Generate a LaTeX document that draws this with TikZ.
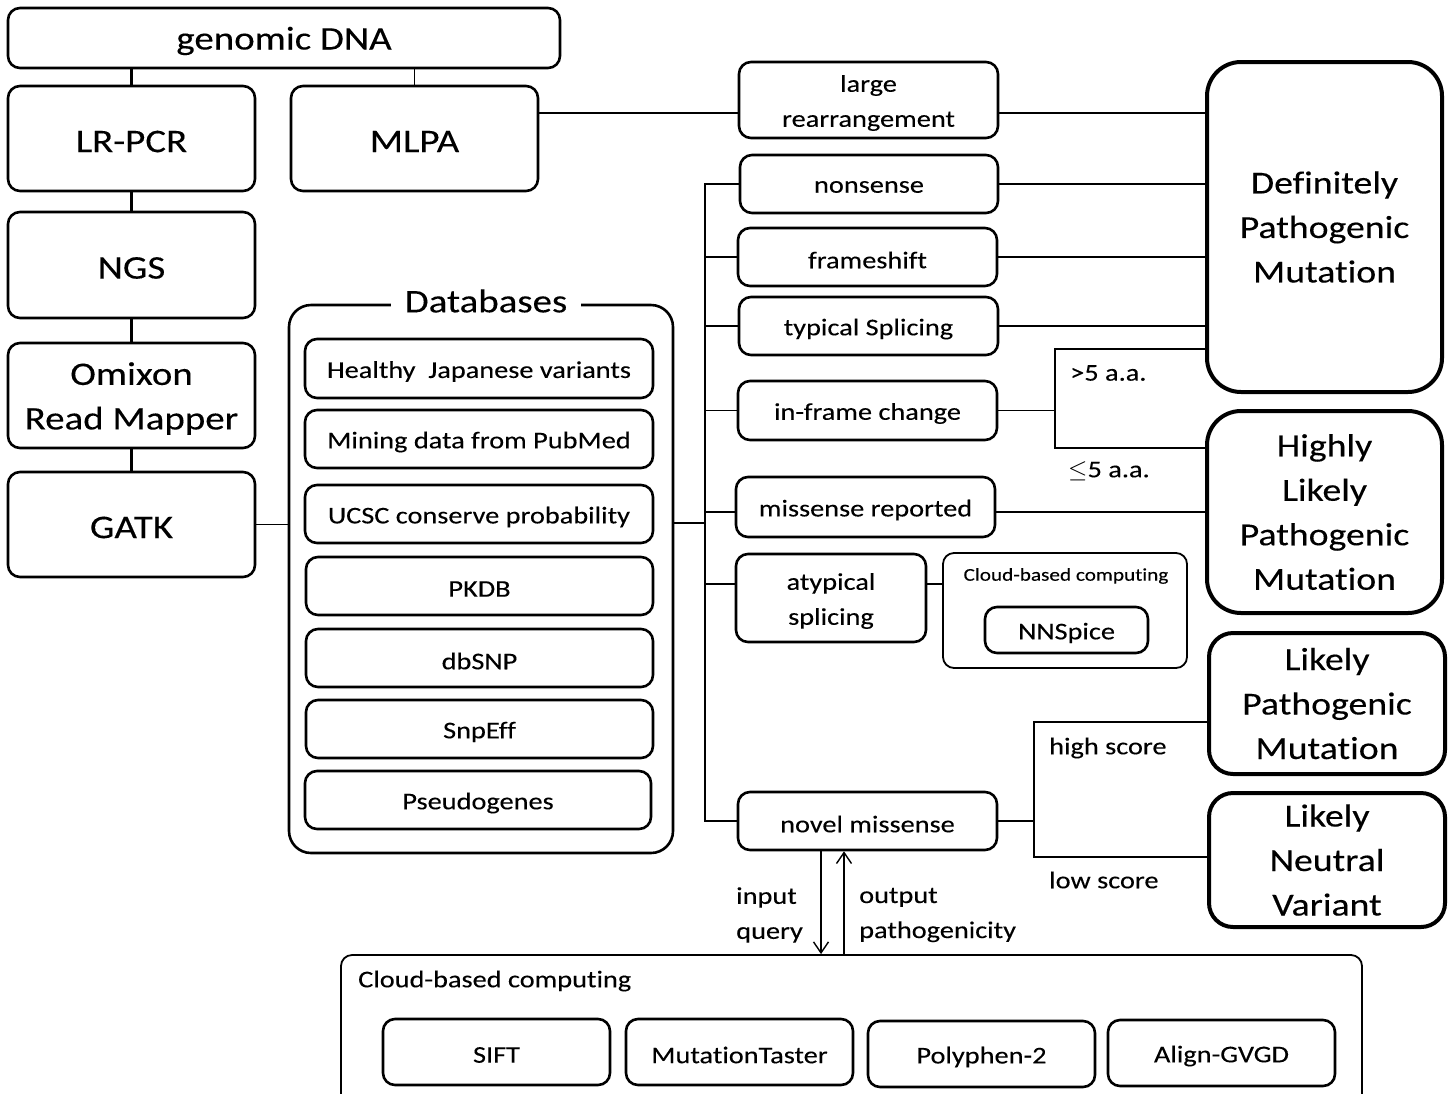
\documentclass[tikz,border=0pt]{standalone}
\usepackage{fontspec}
\setmainfont{Carlito}[FakeStretch=1.18,FakeBold=0.2,Ligatures=NoCommon]
\usetikzlibrary{arrows.meta}
\tikzset{
  box/.style={draw, line width=2.6pt, rounded corners=12pt, inner sep=0pt},
  big/.style={font=\fontsize{33}{44.5}\selectfont},
  med/.style={font=\fontsize{24}{35}\selectfont},
  sml/.style={font=\fontsize{18}{24}\selectfont},
  txt/.style={inner sep=0pt, align=center},
  res/.style={draw, line width=4pt, rounded corners=34pt, inner sep=0pt, align=center, font=\fontsize{32}{44.5}\selectfont},
  cloud/.style={draw, line width=1.8pt, rounded corners=11pt, inner sep=0pt},
  conn/.style={line width=1.4pt},
  tconn/.style={line width=2.6pt},
  arr/.style={line width=1.4pt, -{Straight Barb[length=11pt,width=15pt,line width=1.4pt]}},
  lbl/.style={inner sep=0pt, align=left}
}
% #1 name, #2 x, #3 y, #4 width, #5 height, #6 font style, #7 text
\newcommand\bx[7]{%
  \node[box,minimum width=#4pt,minimum height=#5pt] (#1) at (#2,#3) {};
  \node[txt,#6] (#1t) at ([yshift=-3pt]#1.center) {#7};
}
\begin{document}
\begin{tikzpicture}[x=1pt,y=-1pt]
\useasboundingbox (0,0) rectangle (1450,1093);
\clip (0,0) rectangle (1450,1093);
% left column
\bx{gd}{284}{38}{552}{60}{big}{genomic DNA}
\bx{lr}{131.5}{138.5}{247}{105}{big}{LR-PCR}
\bx{ml}{414.5}{138.5}{247}{105}{big}{MLPA}
\bx{ng}{131.5}{265}{247}{106}{big}{NGS}
\bx{om}{131.5}{395.5}{247}{105}{big}{Omixon\\Read Mapper}
\bx{ga}{131.5}{524.5}{247}{105}{big}{GATK}
\draw[tconn] (lr.north |- gd.south) -- (lr.north);
\draw[conn] (ml.north |- gd.south) -- (ml.north);
\draw[tconn] (lr.south) -- (ng.north);
\draw[tconn] (ng.south) -- (om.north);
\draw[tconn] (om.south) -- (ga.north);
% databases
\node[box,rounded corners=22pt,minimum width=384pt,minimum height=548pt] (db) at (481,579) {};
\node[big,fill=white,inner xsep=14pt,inner ysep=0pt] (dbt) at (486,301) {Databases};
\bx{d1}{479}{368.5}{348}{59}{med}{Healthy\ \ Japanese variants}
\bx{d2}{479}{439}{348}{58}{med}{Mining data from PubMed}
\bx{d3}{479}{514}{348}{58}{med}{UCSC conserve probability}
\bx{d4}{479.5}{586}{347}{58}{med}{PKDB}
\bx{d5}{479.5}{658}{347}{58}{med}{dbSNP}
\bx{d6}{479.5}{729}{347}{58}{med}{SnpEff}
\bx{d7}{478}{800}{346}{58}{med}{Pseudogenes}
\draw[conn] (ga.east) -- (ga.east -| db.west);
% middle column
\coordinate (tj) at (705,523);
\coordinate (yl) at (0,113);
\coordinate (ym) at (0,512);
\coordinate (ya) at (0,584);
\bx{lg}{868.5}{100}{259}{76}{med}{large\\rearrangement}
\bx{ns}{869}{184}{258}{58}{med}{nonsense}
\bx{fs}{867.5}{257}{259}{58}{med}{frameshift}
\bx{ts}{868.5}{326}{259}{58}{med}{typical Splicing}
\bx{if}{867.5}{410.5}{259}{59}{med}{in-frame change}
\bx{mr}{865.5}{507}{259}{60}{med}{missense reported}
\bx{as}{831}{598}{190}{88}{med}{atypical\\splicing}
\node[cloud,minimum width=244pt,minimum height=115pt] (cn) at (1065,610.5) {};
\node[sml,inner sep=0pt] (cnt) at (1066,576) {Cloud-based computing};
\bx{nn}{1066.5}{630}{163}{46}{med}{NNSpice}
\bx{nm}{867.5}{821}{259}{58}{med}{novel missense}
% right column
\node[res,minimum width=235pt,minimum height=330pt] (df) at (1324.5,227) {Definitely\\Pathogenic\\Mutation};
\node[res,minimum width=235pt,minimum height=202pt] (hl) at (1324.5,512) {Highly\\Likely\\Pathogenic\\Mutation};
\node[res,minimum width=236pt,minimum height=141pt,rounded corners=24pt] (lp) at (1327,703.5) {Likely\\Pathogenic\\Mutation};
\node[res,minimum width=236pt,minimum height=134pt,rounded corners=24pt] (ln) at (1327,860) {Likely\\Neutral\\Variant};
% connectors
\draw[conn] (ml.east |- yl) -- (lg.west |- yl);
\draw[conn] (lg.east |- yl) -- (df.west |- yl);
\draw[conn] (db.east |- tj) -- (tj);
\draw[conn] (ns.west) -- (ns.west -| tj) -- (nm.west -| tj) -- (nm.west);
\draw[conn] (fs.west) -- (fs.west -| tj);
\draw[conn] (ts.west) -- (ts.west -| tj);
\draw[conn] (if.west) -- (if.west -| tj);
\draw[conn] (mr.west |- ym) -- (tj |- ym);
\draw[conn] (as.west |- ya) -- (tj |- ya);
\draw[conn] (as.east |- ya) -- (cn.west |- ya);
\draw[conn] (ns.east) -- (ns.east -| df.west);
\draw[conn] (fs.east) -- (fs.east -| df.west);
\draw[conn] (ts.east) -- (ts.east -| df.west);
\draw[conn] (mr.east |- ym) -- (hl.west |- ym);
\coordinate (ja) at (1055,349);
\coordinate (jb) at (1055,448);
\draw[conn] (if.east) -- (if.east -| ja);
\draw[conn] (df.west |- ja) -- (ja) -- (jb) -- (hl.west |- jb);
\node[med,lbl,anchor=west] (g5) at (1070,373) {>5 a.a.};
\node[med,lbl,anchor=west] (l5) at (1068,471) {$\leq$5 a.a.};
\coordinate (ka) at (1034,722);
\coordinate (kb) at (1034,857);
\draw[conn] (nm.east) -- (nm.east -| ka);
\draw[conn] (lp.west |- ka) -- (ka) -- (kb) -- (ln.west |- kb);
\node[med,lbl,anchor=west] (hs) at (1049,748) {high score};
\node[med,lbl,anchor=west] (ls) at (1049,880) {low score};
% bottom cloud
\node[cloud,minimum width=1021pt,minimum height=150pt] (bc) at (851.5,1030) {};
\node[med,lbl,anchor=west] (bct) at (358,981) {Cloud-based computing};
\bx{b1}{496.5}{1052}{227}{66}{med}{SIFT}
\bx{b2}{739.5}{1052}{227}{66}{med}{MutationTaster}
\bx{b3}{981.5}{1054}{227}{66}{med}{Polyphen-2}
\bx{b4}{1221.5}{1053}{227}{66}{med}{Align-GVGD}
\coordinate (ax1) at (821,0);
\coordinate (ax2) at (844,0);
\draw[arr] (nm.south -| ax1) -- (bc.north -| ax1);
\draw[arr] (bc.north -| ax2) -- (nm.south -| ax2);
\node[med,lbl,anchor=west] (iq) at (736,915) {input\\query};
\node[med,lbl,anchor=west] (op) at (859,915) {output\\pathogenicity};
\end{tikzpicture}
\end{document}
